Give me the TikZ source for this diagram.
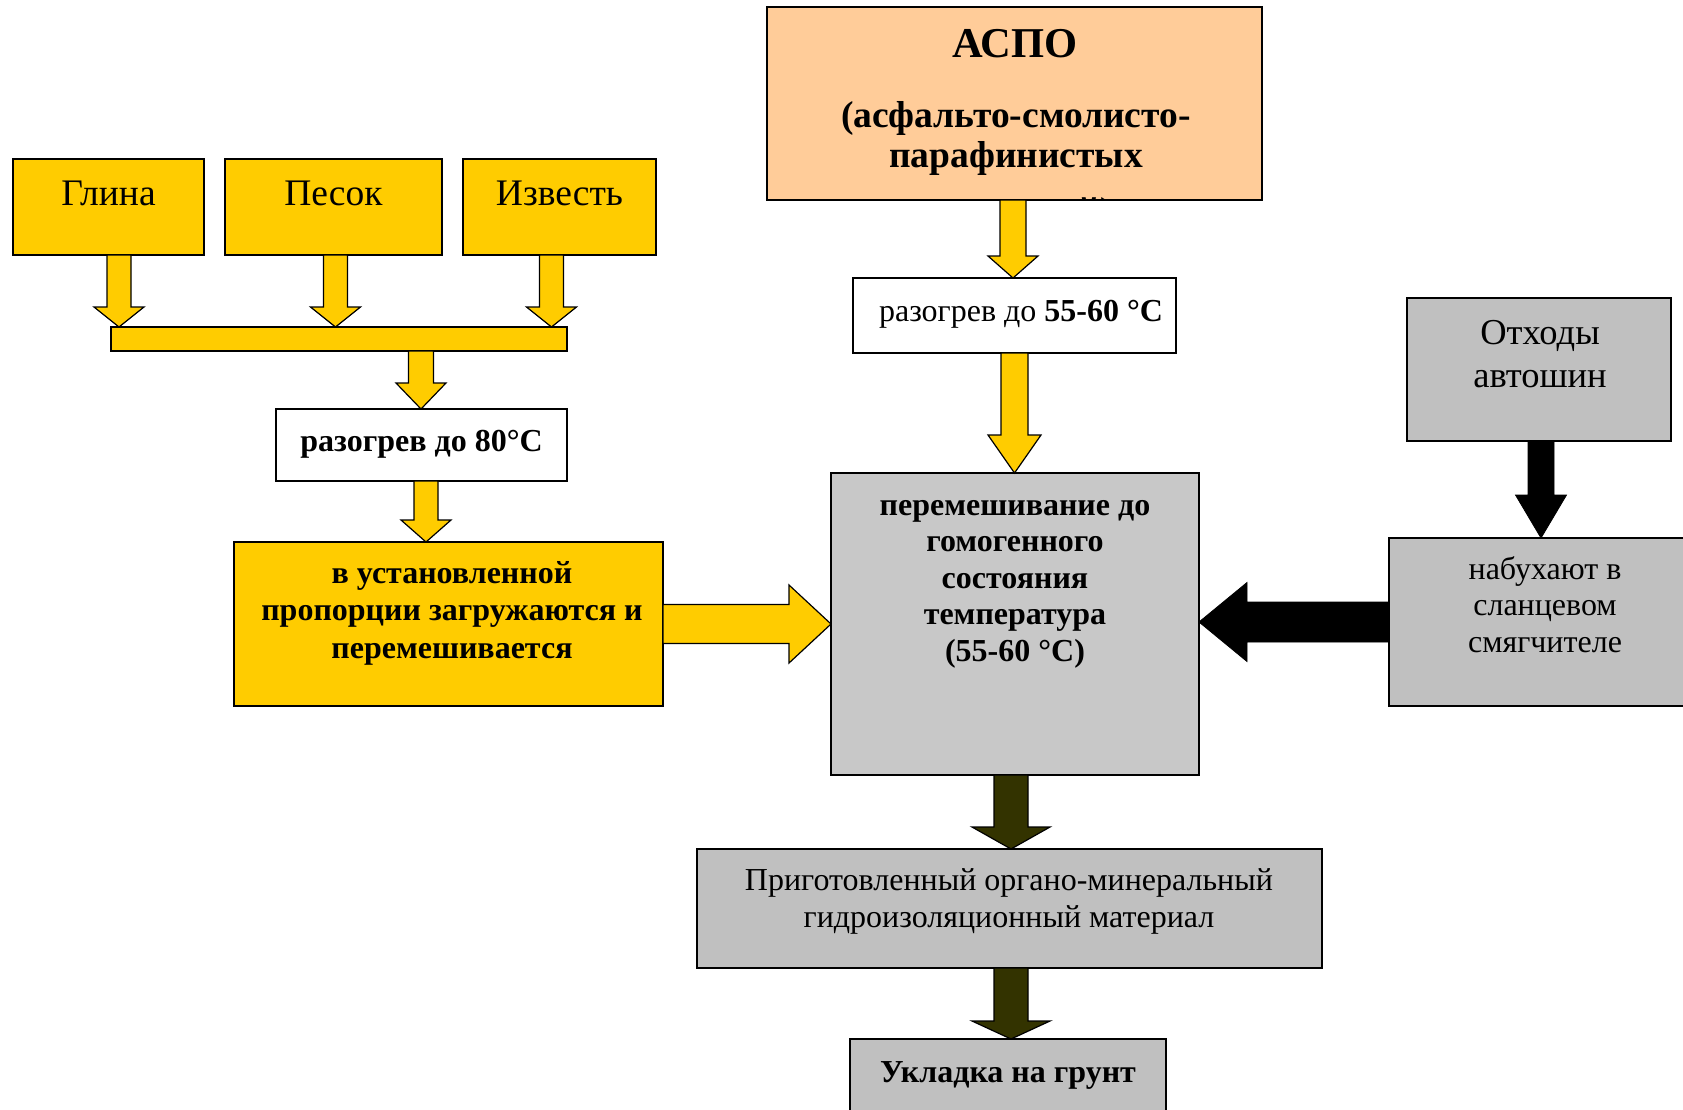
\documentclass[tikz,border=0pt]{standalone}
\usepackage{fontspec}
\setmainfont{Liberation Serif}
\usetikzlibrary{calc}
\definecolor{yel}{HTML}{FFCC00}
\definecolor{peach}{HTML}{FFCC99}
\definecolor{gry}{HTML}{C0C0C0}
\definecolor{gryl}{HTML}{C8C8C8}
\definecolor{olv}{HTML}{333300}
\newcommand\fatV[6]{\path[#1] let \p1=#2, \p2=#3 in ({\x1-#4},{\y1}) -- ({\x1-#4},{\y2+#6}) -- ({\x1-#5},{\y2+#6}) -- ({\x1},{\y2}) -- ({\x1+#5},{\y2+#6}) -- ({\x1+#4},{\y2+#6}) -- ({\x1+#4},{\y1}) -- cycle;}
\newcommand\fatH[6]{\path[#1] let \p1=#2, \p2=#3 in ({\x1},{\y1-#4}) -- ({\x2-#6},{\y1-#4}) -- ({\x2-#6},{\y1-#5}) -- ({\x2},{\y1}) -- ({\x2-#6},{\y1+#5}) -- ({\x2-#6},{\y1+#4}) -- ({\x1},{\y1+#4}) -- cycle;}
\begin{document}
\begin{tikzpicture}[x=1pt,y=-1pt,
  box/.style={draw=black, line width=1.5pt, inner sep=0pt, outer sep=0pt},
  ybox/.style={box, fill=yel},
  gbox/.style={box, fill=gry},
  wbox/.style={box, fill=white},
  pbox/.style={box, fill=peach},
  yarr/.style={draw=black, line width=1.2pt, fill=yel, line join=miter},
  barr/.style={draw=black, line width=0.8pt, fill=black},
  oarr/.style={draw=black, line width=1.2pt, fill=olv},
  txt/.style={inner sep=0pt, anchor=base, align=center}]
\useasboundingbox (0,0) rectangle (1683,1109);
\clip (0,0) rectangle (1683,1109);
% boxes
\node[ybox, minimum width=191, minimum height=96] (glina) at (108.5,207) {};
\node[ybox, minimum width=217, minimum height=96] (pesok) at (333.5,207) {};
\node[ybox, minimum width=193, minimum height=96] (izv) at (559.5,207) {};
\node[ybox, minimum width=456, minimum height=24] (bar) at (339,339) {};
\node[wbox, minimum width=291, minimum height=72] (heatA) at (421.5,445) {};
\node[ybox, minimum width=429, minimum height=164] (mix) at (448.5,624) {};
\node[pbox, minimum width=495, minimum height=193] (aspo) at (1014.5,103.5) {};
\node[wbox, minimum width=323, minimum height=75] (heatB) at (1014.5,315.5) {};
\node[box, fill=gryl, minimum width=368, minimum height=302] (center) at (1015,624) {};
\node[gbox, minimum width=264, minimum height=143] (tires) at (1539,369.5) {};
\node[gbox, minimum width=311, minimum height=168] (swell) at (1544.5,622) {};
\node[gbox, minimum width=625, minimum height=119] (ready) at (1009.5,908.5) {};
\node[gbox, minimum width=316, minimum height=82] (lay) at (1008,1080) {};
% texts (anchor=base is the baseline of the last line)
\node[txt, font=\fontsize{37.5}{43}\selectfont] (t1) at (108.5,205) {Глина};
\node[txt, font=\fontsize{37.5}{43}\selectfont] (t2) at (333.5,205) {Песок};
\node[txt, font=\fontsize{37.5}{43}\selectfont] (t3) at (559.5,205) {Известь};
\node[txt, font=\fontsize{32}{37}\selectfont\bfseries] (t4) at (421.5,451) {разогрев до 80°C};
\node[txt, font=\fontsize{32}{37.5}\selectfont\bfseries] (t5) at (452,658) {в установленной\\пропорции загружаются и\\перемешивается};
\node[txt, font=\fontsize{42.5}{50}\selectfont\bfseries] (t6) at (1015,57) {АСПО};
\node[txt, font=\fontsize{37.5}{40}\selectfont\bfseries] (t7) at (1016,167) {(асфальто-смолисто-\\парафинистых};
\begin{scope}
\clip (aspo.north west) rectangle (aspo.south east);
\node[txt, font=\fontsize{37.5}{40}\selectfont\bfseries] (t8) at (1015,223) {отложений)};
\end{scope}
\node[txt, font=\fontsize{32}{38}\selectfont] (t9) at (1021,321) {разогрев до \textbf{55-60 °C}};
\node[txt, font=\fontsize{32}{36.5}\selectfont\bfseries] (t10) at (1015,661) {перемешивание до\\гомогенного\\состояния\\температура\\(55-60 °C)};
\node[txt, font=\fontsize{36.5}{43}\selectfont] (t11) at (1540,387) {Отходы\\автошин};
\node[txt, font=\fontsize{32}{36.5}\selectfont] (t12) at (1545,652) {набухают в\\сланцевом\\смягчителе};
\node[txt, font=\fontsize{32}{37}\selectfont] (t13) at (1009,927.5) {Приготовленный органо-минеральный\\гидроизоляционный материал};
\node[txt, font=\fontsize{32}{38}\selectfont\bfseries] (t14) at (1008,1082) {Укладка на грунт};
% arrows
\fatV{yarr}{($(glina.south)+(10.5,0)$)}{(bar.north)}{12}{25}{20}
\fatV{yarr}{($(pesok.south)+(2,0)$)}{(bar.north)}{12}{25}{20}
\fatV{yarr}{($(izv.south)+(-8,0)$)}{(bar.north)}{12}{25}{20}
\fatV{yarr}{($(bar.south)+(82,0)$)}{(heatA.north)}{12.5}{25}{26}
\fatV{yarr}{($(heatA.south)+(4.5,0)$)}{(mix.north)}{12}{25}{22}
\fatH{yarr}{(mix.east)}{(center.west)}{19.5}{39}{42}
\fatV{yarr}{($(aspo.south)+(-1.5,0)$)}{(heatB.north)}{13}{25}{22}
\fatV{yarr}{(heatB.south)}{(center.north)}{13.5}{26.5}{38}
\fatV{barr}{($(tires.south)+(2,0)$)}{(swell.north)}{13}{25.5}{43}
\fatH{barr}{(swell.west)}{(center.east)}{20}{39.5}{(-48)}
\fatV{oarr}{($(center.south)+(-4,0)$)}{(ready.north)}{17}{39}{22}
\fatV{oarr}{($(ready.south)+(1.5,0)$)}{(lay.north)}{17}{39}{18}
\end{tikzpicture}
\end{document}
